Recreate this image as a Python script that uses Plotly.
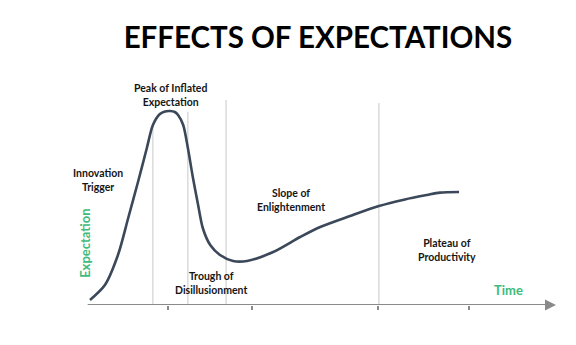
import plotly.graph_objects as go

# Hype-cycle style curve: time (arbitrary units) vs. expectation
time_pts = [0.00, 0.32, 0.60, 0.82, 1.03, 1.22, 1.35, 1.50, 1.61, 1.72, 1.82,
            1.89, 2.00, 2.10, 2.21, 2.32, 2.42, 2.58, 2.79, 3.07, 3.37, 3.93,
            4.51, 4.94, 5.58, 6.20, 6.76, 7.23, 7.51, 7.92]
expectation = [0.25, 1.00, 2.50, 4.35, 6.15, 7.85, 9.00, 9.55, 9.68, 9.70, 9.65,
               9.50, 9.00, 7.85, 6.35, 5.00, 3.85, 3.00, 2.50, 2.20, 2.20, 2.65,
               3.40, 3.90, 4.45, 4.95, 5.28, 5.50, 5.62, 5.65]

# Phase boundaries (vertical guides) and how high each guide reaches
boundaries = [1.35, 2.10, 2.92, 6.20]
boundary_tops = [9.10, 9.65, 10.25, 10.10]

# Tick positions on the time axis
tick_vals = [1.67, 3.48, 6.18, 8.13]

# Phase labels: text, time, expectation
phase_text = ["Peak of Inflated<br>Expectation", "Innovation<br>Trigger",
              "Slope of<br>Enlightenment", "Trough of<br>Disillusionment",
              "Plateau of<br>Productivity"]
phase_t = [1.72, 0.17, 4.31, 2.60, 7.66]
phase_e = [10.50, 6.25, 5.25, 1.12, 2.75]

GREEN = "#3dbb7c"
FONT = "Lato"

fig = go.Figure()

fig.add_trace(go.Scatter(
    x=time_pts, y=expectation, mode="lines",
    line=dict(color="#3b4859", width=2.6, shape="spline", smoothing=0.8),
    hoverinfo="skip", showlegend=False,
))

shapes = []
for b, top in zip(boundaries, boundary_tops):
    shapes.append(dict(type="line", xref="x", yref="y", x0=b, x1=b, y0=0, y1=top,
                       line=dict(color="#c8c8c8", width=1), layer="below"))
# time axis line
shapes.append(dict(type="line", xref="x", yref="y", x0=-0.05, x1=9.85, y0=0, y1=0,
                   line=dict(color="#8a8a8a", width=2), layer="below"))

annotations = []
for txt, t, e in zip(phase_text, phase_t, phase_e):
    annotations.append(dict(x=t, y=e, xref="x", yref="y", text=txt, showarrow=False,
                            font=dict(family=FONT, size=10.5, color="#151515", weight="bold"),
                            align="center"))
# arrow head at the end of the time axis
annotations.append(dict(x=10.0, y=0, xref="x", yref="y", ax=-12, ay=0, text="",
                        showarrow=True, arrowhead=2, arrowsize=1.1, arrowwidth=2,
                        arrowcolor="#8a8a8a"))
annotations.append(dict(x=8.99, y=0.75, xref="x", yref="y", text="Time", showarrow=False,
                        font=dict(family=FONT, size=13, color=GREEN, weight="bold")))
annotations.append(dict(x=-0.11, y=3.1, xref="x", yref="y", text="Expectation",
                        showarrow=False, textangle=-90,
                        font=dict(family=FONT, size=13, color=GREEN, weight="bold")))

fig.update_layout(
    width=576, height=345,
    margin=dict(l=0, r=0, t=0, b=40),
    paper_bgcolor="white", plot_bgcolor="white",
    showlegend=False,
    title=dict(text="EFFECTS OF EXPECTATIONS", x=0.552, y=0.89, xref="container",
               yref="container", xanchor="center", yanchor="middle",
               font=dict(family=FONT, size=29.5, color="#000000", weight="bold")),
    xaxis=dict(range=[-90 / 46.6, 486 / 46.6], showgrid=False, zeroline=False,
               showline=False, tickvals=tick_vals, ticktext=["" for _ in tick_vals],
               ticks="outside", ticklen=4, tickwidth=1.5, tickcolor="#8a8a8a",
               fixedrange=True),
    yaxis=dict(range=[0, 15.25], showgrid=False, zeroline=False, showline=False,
               showticklabels=False, ticks="", fixedrange=True),
    shapes=shapes,
    annotations=annotations,
)

fig.write_html("out.html")
